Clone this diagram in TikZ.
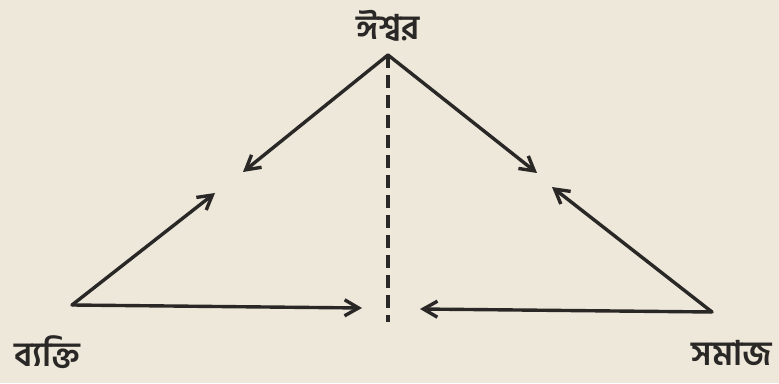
\documentclass[tikz,border=0pt]{standalone}
\usepackage{fontspec}
\newfontfamily\bengfont[Script=Bengali]{Hind Siliguri SemiBold}
\usetikzlibrary{arrows.meta}

\begin{document}
\begin{tikzpicture}[x=1pt, y=1pt, >={Straight Barb[length=14pt, width=16pt, line width=3.4pt]},
  line/.style={draw=ink, line width=3.4pt, line cap=round},
  label/.style={text=ink, font=\bengfont\fontsize{34}{38}\selectfont, inner sep=0pt}]
\definecolor{paper}{HTML}{EEE8DB}
\definecolor{ink}{HTML}{2A2826}
\fill[paper] (0,0) rectangle (779,383);
\useasboundingbox (0,0) rectangle (779,383);
% vertices
\coordinate (god) at (388,328);
\coordinate (ind) at (72,78);
\coordinate (soc) at (712,71);
% free ends of the arrows
\coordinate (gl) at (243,211);
\coordinate (il) at (215,190);
\coordinate (gr) at (537,210);
\coordinate (sr) at (552,196);
\coordinate (ib) at (362,75);
\coordinate (sb) at (420,74);
\coordinate (mid) at (388,61);
% labels
\node[label] (godlbl) at (388,357) {ঈশ্বর};
\node[label] (indlbl) at (47,31) {ব্যক্তি};
\node[label] (soclbl) at (732,30) {সমাজ};
% arrows
\draw[line, ->] (god) -- (gl);
\draw[line, ->] (ind) -- (il);
\draw[line, ->] (god) -- (gr);
\draw[line, ->] (soc) -- (sr);
\draw[line, ->] (ind) -- (ib);
\draw[line, ->] (soc) -- (sb);
\draw[line, line cap=butt, dash pattern=on 13pt off 7pt] (god) -- (mid);
\end{tikzpicture}
\end{document}
